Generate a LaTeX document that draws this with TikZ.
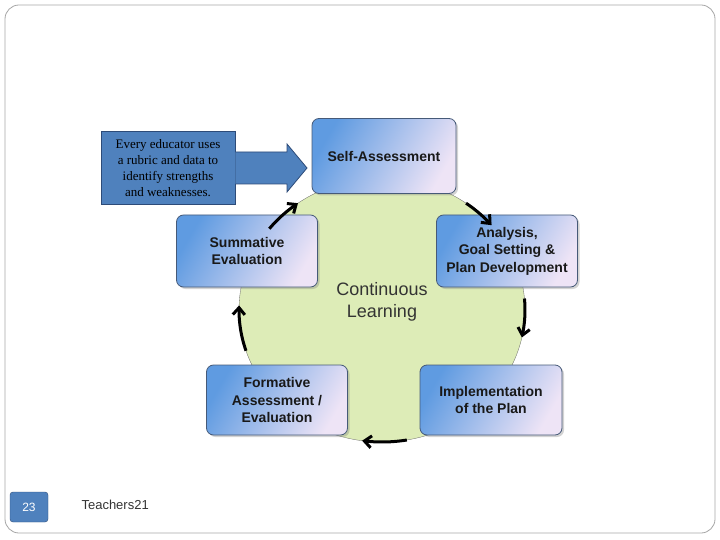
\documentclass[tikz,border=0pt]{standalone}
\usepackage{fontspec}
\setmainfont{Liberation Sans}
\newfontfamily\serifx{Liberation Serif}
\usetikzlibrary{arrows.meta,shadows}
\definecolor{bxblue}{RGB}{95,155,225}
\definecolor{bxlite}{RGB}{238,228,246}
\definecolor{bxedge}{RGB}{70,90,120}
\definecolor{circ}{RGB}{221,236,183}
\definecolor{callout}{RGB}{79,129,189}
\definecolor{calledge}{RGB}{45,75,120}
\tikzset{
 stage/.style={draw=bxedge,line width=0.8pt,rounded corners=7pt,left color=bxblue,right color=bxlite,shading angle=60,
   font=\bfseries\fontsize{14}{17.5}\selectfont,text=black!90,align=center,inner sep=0pt,drop shadow={opacity=0.35,shadow xshift=2pt,shadow yshift=-2pt}},
 cyc/.style={line width=3pt,-{Straight Barb[length=7pt,width=12pt]}}
}
\begin{document}
\begin{tikzpicture}[x=1pt,y=-1pt]
\useasboundingbox (0,0) rectangle (720,540);
\draw[gray!70,line width=0.8pt,rounded corners=14pt] (5,5) rectangle (715,533);
\fill[circ] (382,310) ellipse [x radius=143, y radius=132];
\draw[black!60,line width=0.3pt] (382,310) ellipse [x radius=143, y radius=132];
\node[font=\fontsize{18}{22}\selectfont,align=center,text=black!80] (cl) at (382,302) {Continuous\\Learning};
\node[stage,minimum width=144,minimum height=75] (sa) at (384,156) {Self-Assessment};
\node[stage,minimum width=141,minimum height=72] (an) at (507,251) {Analysis,\\Goal Setting \&\\Plan Development};
\node[stage,minimum width=142,minimum height=70] (im) at (491,400) {Implementation\\of the Plan};
\node[stage,minimum width=141,minimum height=70] (fo) at (277,400) {Formative\\Assessment /\\Evaluation};
\node[stage,minimum width=141,minimum height=72] (su) at (247,251) {Summative\\Evaluation};
\draw[cyc,domain=54:40,samples=20] plot ({382+143*cos(\x)},{310-132*sin(\x)});
\draw[cyc,domain=5:-12,samples=20] plot ({382+143*cos(\x)},{310-132*sin(\x)});
\draw[cyc,domain=-80:-98,samples=20] plot ({382+143*cos(\x)},{310-132*sin(\x)});
\draw[cyc,domain=198:178,samples=20] plot ({382+143*cos(\x)},{310-132*sin(\x)});
\draw[cyc,domain=142:126,samples=20] plot ({382+143*cos(\x)},{310-132*sin(\x)});
\node[draw=calledge,fill=callout,line width=0.8pt,minimum width=134,minimum height=73,inner sep=1pt,align=center,
  font=\serifx\fontsize{13}{16}\selectfont] (co) at (168,168) {Every educator uses\\a rubric and data to\\identify strengths\\and weaknesses.};
\coordinate (tip) at (307,168);
\draw[draw=calledge,fill=callout,line width=0.8pt] (co.east |- 0,152) -- (287,152) -- (287,144) -- (tip) -- (287,192) -- (287,184) -- (co.east |- 0,184);
\node[draw=calledge,fill=callout,rounded corners=3pt,minimum width=38,minimum height=30,text=white,font=\fontsize{12}{14}\selectfont] (pg) at (29,507) {23};
\node[anchor=west,font=\fontsize{13}{16}\selectfont,text=black!80] (t21) at (78,505) {Teachers21};
\end{tikzpicture}
\end{document}
